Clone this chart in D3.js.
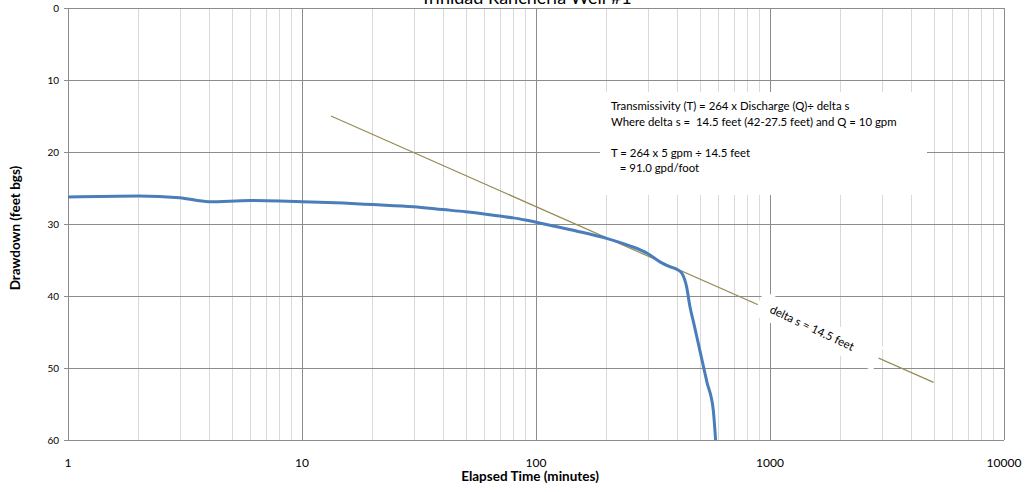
<!DOCTYPE html>
<html>
<head>
<meta charset="utf-8">
<script src="https://cdn.jsdelivr.net/npm/d3@7/dist/d3.min.js"></script>
<style>
  body { margin: 0; background: #fff; }
  svg { display: block; font-family: Lato, "Open Sans", sans-serif; }
</style>
</head>
<body>
<svg width="1028" height="492"></svg>
<script>
// Pumping test data
var elapsed  = [1, 2, 3, 4, 6, 8, 10, 15, 20, 30, 40, 50, 60, 70, 80, 90, 100, 120, 150, 200,
                250, 300, 340, 370, 400, 420, 440, 455, 474, 505, 538, 572, 586];
var drawdown = [26.25, 26.1, 26.35, 26.9, 26.75, 26.8, 26.9, 27.1, 27.3, 27.6, 28.0, 28.3, 28.6, 28.9, 29.15, 29.45, 29.75, 30.3, 31.0, 32.0,
                33.0, 34.1, 35.3, 35.9, 36.3, 36.85, 38.7, 41.5, 44.0, 48.0, 52.0, 55.8, 60.2];

// straight-line fit (Cooper-Jacob)
var fitTime = [13.3, 5000];
var fitDrawdown = [15.0, 52.0];

var yTicks = [0, 10, 20, 30, 40, 50, 60];
var xTicks = [1, 10, 100, 1000, 10000];

var noteLines = ["Transmissivity (T) = 264 x Discharge (Q)\u00f7 delta s",
                 "Where delta s =  14.5 feet (42-27.5 feet) and Q = 10 gpm",
                 "",
                 "T = 264 x 5 gpm \u00f7 14.5 feet",
                 "   = 91.0 gpd/foot"];

// plot area (don't use "top" - it's a window global)
var pL = 68, pR = 1004, pT = 8, pB = 440;

var svg = d3.select("svg");

var x = d3.scaleLog().domain([1, 10000]).range([pL, pR]);
var y = d3.scaleLinear().domain([0, 60]).range([pT, pB]);

// minor vertical grid
var minor = [];
for (var k = 0; k < 4; k++) {
  for (var m = 2; m <= 9; m++) minor.push(m * Math.pow(10, k));
}
svg.append("g").selectAll("line").data(minor).enter().append("line")
    .attr("x1", d => Math.round(x(d)) + 0.5).attr("x2", d => Math.round(x(d)) + 0.5)
    .attr("y1", pT).attr("y2", pB)
    .attr("stroke", "#d9d9d9").attr("stroke-width", 1);

// major vertical grid
svg.append("g").selectAll("line").data(xTicks).enter().append("line")
    .attr("x1", d => Math.round(x(d)) + 0.5).attr("x2", d => Math.round(x(d)) + 0.5)
    .attr("y1", pT).attr("y2", pB)
    .attr("stroke", "#8c8c8c").attr("stroke-width", 1);

// horizontal grid
svg.append("g").selectAll("line").data(yTicks).enter().append("line")
    .attr("x1", pL - 4).attr("x2", pR)
    .attr("y1", d => Math.round(y(d)) + 0.5).attr("y2", d => Math.round(y(d)) + 0.5)
    .attr("stroke", "#8c8c8c").attr("stroke-width", 1);

// y tick labels
svg.append("g").selectAll("text").data(yTicks).enter().append("text")
    .attr("x", pL - 9).attr("y", d => y(d) + 3.5)
    .attr("text-anchor", "end").attr("font-size", 10).attr("fill", "#000")
    .text(d => d);

// x tick labels
svg.append("g").selectAll("text").data(xTicks).enter().append("text")
    .attr("x", d => x(d)).attr("y", 467)
    .attr("text-anchor", "middle").attr("font-size", 12).attr("fill", "#000")
    .text(d => d);

// axis titles
svg.append("text").attr("x", 530).attr("y", 481)
    .attr("text-anchor", "middle").attr("font-size", 13.5).attr("font-weight", "bold")
    .text("Elapsed Time (minutes)");
svg.append("text").attr("transform", "translate(20,228) rotate(-90)")
    .attr("text-anchor", "middle").attr("font-size", 13.5).attr("font-weight", "bold")
    .text("Drawdown (feet bgs)");

// chart title (partly cut off at the top)
svg.append("text").attr("x", 526).attr("y", 4)
    .attr("text-anchor", "middle").attr("font-size", 18).attr("fill", "#000")
    .text("Trinidad Rancheria Well #1");

// clip to plot area
svg.append("clipPath").attr("id", "plot")
  .append("rect").attr("x", pL).attr("y", pT).attr("width", pR - pL).attr("height", pB - pT);

// fit line
var line = d3.line().x(d => x(d[0])).y(d => y(d[1]));
svg.append("path")
    .datum(d3.zip(fitTime, fitDrawdown))
    .attr("d", line)
    .attr("fill", "none").attr("stroke", "#958b53").attr("stroke-width", 1.2);

// drawdown curve
svg.append("path")
    .datum(d3.zip(elapsed, drawdown))
    .attr("clip-path", "url(#plot)")
    .attr("d", line.curve(d3.curveMonotoneX))
    .attr("fill", "none").attr("stroke", "#4a7ebb").attr("stroke-width", 3)
    .attr("stroke-linejoin", "round");

// transmissivity note box
svg.append("rect").attr("x", 600).attr("y", 92).attr("width", 327).attr("height", 103)
    .attr("fill", "#fff");
svg.append("g").selectAll("text").data(noteLines).enter().append("text")
    .attr("x", 611).attr("y", (d, i) => 110 + i * 15.5)
    .attr("font-size", 11.4).attr("fill", "#000")
    .style("white-space", "pre")
    .text(d => d);

// rotated delta s label
var lab = svg.append("g").attr("transform", "translate(812,328) rotate(25)");
lab.append("rect").attr("x", -59).attr("y", -13).attr("width", 132).attr("height", 26).attr("fill", "#fff");
lab.append("text").attr("text-anchor", "middle").attr("y", 4)
    .attr("font-size", 11.5).attr("fill", "#000")
    .text("delta s = 14.5 feet");
</script>
</body>
</html>
